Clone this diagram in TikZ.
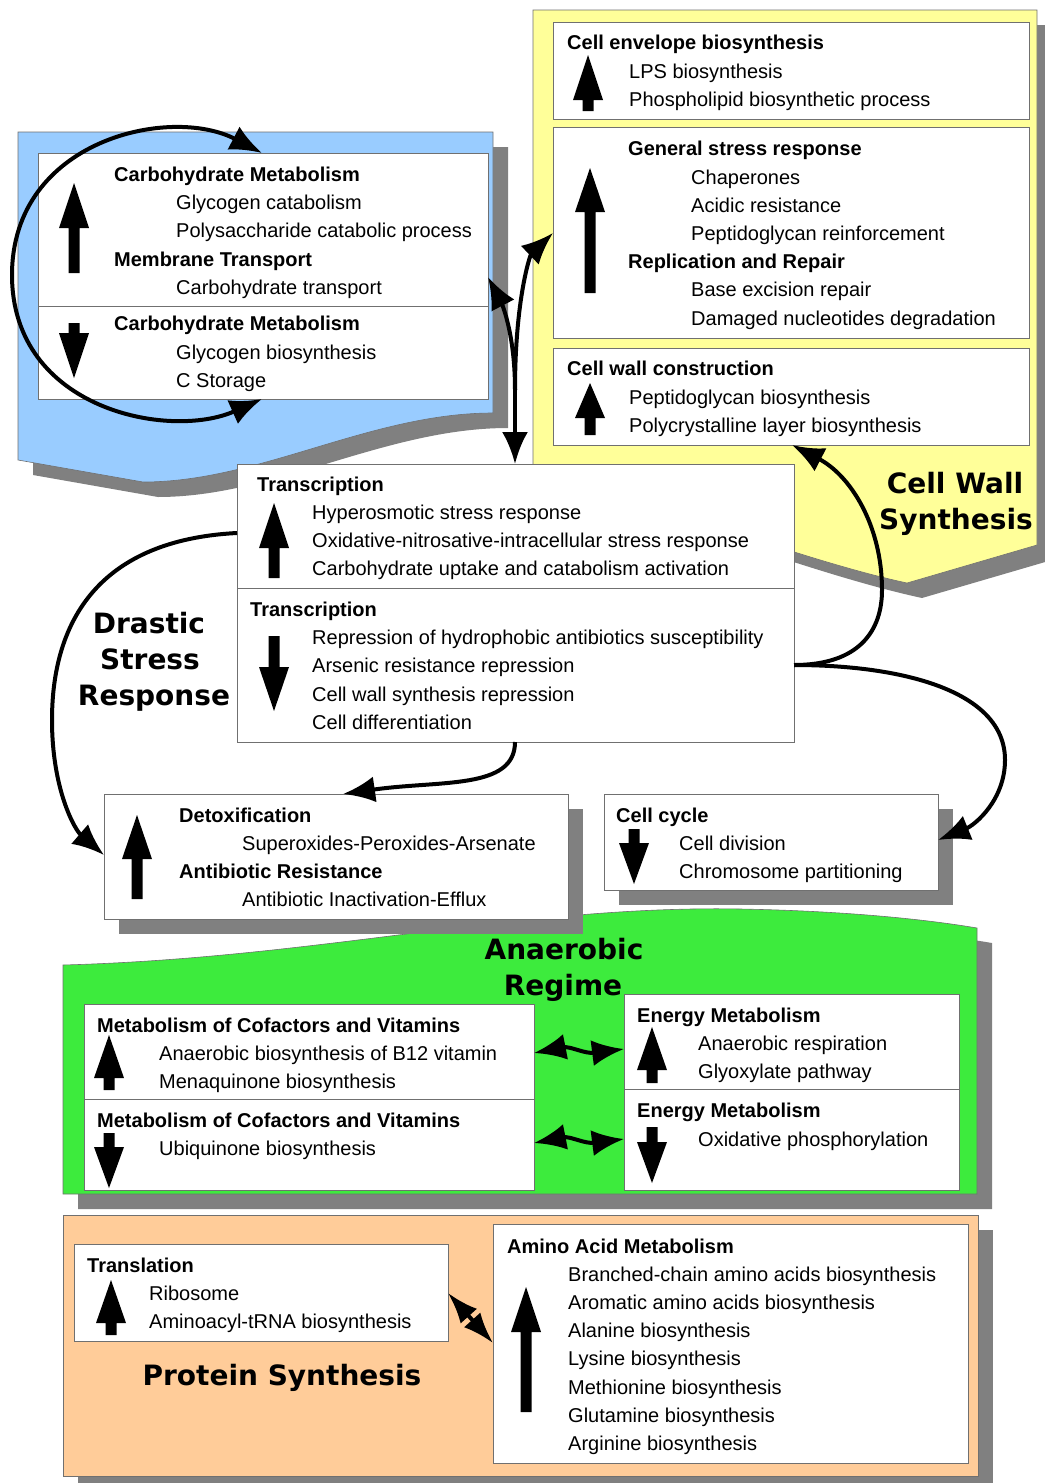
\documentclass[tikz,border=0pt]{standalone}
\usepackage{fontspec}
\setmainfont{Liberation Sans}
\newfontfamily\regfont{DejaVu Sans}
\usetikzlibrary{arrows.meta}
\definecolor{rblue}{HTML}{99CCFF}
\definecolor{ryellow}{HTML}{FFFF99}
\definecolor{rgreen}{HTML}{3DEB3D}
\definecolor{rorange}{HTML}{FFCC99}
\definecolor{shadowgray}{HTML}{808080}
\definecolor{edge}{HTML}{707070}
\newcounter{tn}
\newcommand\Tx[3]{\stepcounter{tn}\node[txt] (t\arabic{tn}) at ({#1},{-#2-7}) {#3};}
\newcommand\Tb[3]{\stepcounter{tn}\node[btxt] (t\arabic{tn}) at ({#1},{-#2-7}) {#3};}
\newcommand\Lb[3]{\stepcounter{tn}\node[lbl] (t\arabic{tn}) at ({#1},{-#2-10}) {#3};}
\newcommand\UpA[4]{\fill ({#1-5.5},{-#3}) -- ({#1-5.5},{-#2-#4}) -- ({#1-15},{-#2-#4}) -- ({#1},{-#2}) -- ({#1+15},{-#2-#4}) -- ({#1+5.5},{-#2-#4}) -- ({#1+5.5},{-#3}) -- cycle;}
\newcommand\DnA[4]{\fill ({#1-5.5},{-#2}) -- ({#1-5.5},{-#3+#4}) -- ({#1-15},{-#3+#4}) -- ({#1},{-#3}) -- ({#1+15},{-#3+#4}) -- ({#1+5.5},{-#3+#4}) -- ({#1+5.5},{-#2}) -- cycle;}
\tikzset{
  txt/.style={anchor=base west, inner sep=0pt, font=\fontsize{20}{24}\selectfont},
  btxt/.style={txt, font=\fontsize{20}{24}\selectfont\bfseries},
  lbl/.style={anchor=base, inner sep=0pt, font=\regfont\fontsize{28}{34}\selectfont\bfseries},
  box/.style={draw=edge, line width=0.8pt, fill=white, anchor=north west, inner sep=0pt, outer sep=0pt},
  region/.style={draw=edge, line width=0.6pt},
  divider/.style={draw=edge, line width=0.8pt},
  dropshadow/.style={fill=shadowgray},
  conn/.style={line width=4pt, -{Latex[length=32pt,width=26pt]}},
  dconn/.style={line width=4pt, {Latex[length=32pt,width=26pt]}-{Latex[length=32pt,width=26pt]}},
  sconn/.style={line width=4pt, {Latex[length=31pt,width=22pt]}-{Latex[length=31pt,width=22pt]}}
}
\begin{document}
\begin{tikzpicture}[x=1pt,y=1pt]
\useasboundingbox (0,0) rectangle (1044,-1483);
\fill[white] (0,0) rectangle (1044,-1483);
% ---------- region shadows
\path[dropshadow,shift={(15,-15)}] (18,-132) -- (493,-132) -- (493,-413) .. controls (370,-413) and (260,-482) .. (143,-482) -- (18,-460) -- cycle;
\path[dropshadow,shift={(15,-15)}] (533,-10) -- (1037,-10) -- (1037,-545) -- (907,-583) .. controls (800,-560) and (650,-500) .. (533,-470) -- cycle;
\path[dropshadow,shift={(15,-15)}] (63,-965) .. controls (320,-958) and (520,-905) .. (740,-909) .. controls (850,-911) and (930,-920) .. (977,-928) -- (977,-1194) -- (63,-1194) -- cycle;
\path[dropshadow] (78,-1230) rectangle (993,-1495);
% ---------- regions
\path[region,fill=rblue] (18,-132) -- (493,-132) -- (493,-413) .. controls (370,-413) and (260,-482) .. (143,-482) -- (18,-460) -- cycle;
\path[region,fill=ryellow] (533,-10) -- (1037,-10) -- (1037,-545) -- (907,-583) .. controls (800,-560) and (650,-500) .. (533,-470) -- cycle;
\path[region,fill=rgreen] (63,-965) .. controls (320,-958) and (520,-905) .. (740,-909) .. controls (850,-911) and (930,-920) .. (977,-928) -- (977,-1194) -- (63,-1194) -- cycle;
\path[region,fill=rorange] (63,-1215) rectangle (978,-1476);
% ---------- box shadows
\path[dropshadow] (119,-809) rectangle (583,-934);
\path[dropshadow] (619,-809) rectangle (953,-905);
% ---------- boxes
\node[box, minimum width=450pt, minimum height=246pt] (tl) at (38,-153) {};
\draw[divider] (tl.west |- 0,-306) -- (tl.east |- 0,-306);
\node[box, minimum width=476pt, minimum height=97pt] (ce) at (553,-22) {};
\node[box, minimum width=476pt, minimum height=211pt] (gs) at (553,-127) {};
\node[box, minimum width=476pt, minimum height=97pt] (cwc) at (553,-348) {};
\node[box, minimum width=557pt, minimum height=278pt] (tr) at (237,-464) {};
\draw[divider] (tr.west |- 0,-588) -- (tr.east |- 0,-588);
\node[box, minimum width=464pt, minimum height=125pt] (dx) at (104,-794) {};
\node[box, minimum width=334pt, minimum height=96pt] (cc) at (604,-794) {};
\node[box, minimum width=450pt, minimum height=186pt] (mc) at (84,-1004) {};
\draw[divider] (mc.west |- 0,-1099) -- (mc.east |- 0,-1099);
\node[box, minimum width=335pt, minimum height=196pt] (em) at (624,-994) {};
\draw[divider] (em.west |- 0,-1089) -- (em.east |- 0,-1089);
\node[box, minimum width=374pt, minimum height=97pt] (tln) at (74,-1244) {};
\node[box, minimum width=475pt, minimum height=239pt] (aa) at (493,-1224) {};
% ---------- texts: top-left
\Tb{114}{174}{Carbohydrate Metabolism}
\Tx{176}{202}{Glycogen catabolism}
\Tx{176}{230}{Polysaccharide catabolic process}
\Tb{114}{259}{Membrane Transport}
\Tx{176}{287}{Carbohydrate transport}
\Tb{114}{323}{Carbohydrate Metabolism}
\Tx{176}{352}{Glycogen biosynthesis}
\Tx{176}{380}{C Storage}
% cell envelope
\Tb{567}{42}{Cell envelope biosynthesis}
\Tx{629}{71}{LPS biosynthesis}
\Tx{629}{99}{Phospholipid biosynthetic process}
% general stress
\Tb{628}{148}{General stress response}
\Tx{691}{177}{Chaperones}
\Tx{691}{205}{Acidic resistance}
\Tx{691}{233}{Peptidoglycan reinforcement}
\Tb{628}{261}{Replication and Repair}
\Tx{691}{289}{Base excision repair}
\Tx{691}{318}{Damaged nucleotides degradation}
% cell wall construction
\Tb{567}{368}{Cell wall construction}
\Tx{629}{397}{Peptidoglycan biosynthesis}
\Tx{629}{425}{Polycrystalline layer biosynthesis}
% transcription
\Tb{257}{484}{Transcription}
\Tx{312}{512}{Hyperosmotic stress response}
\Tx{312}{540}{Oxidative-nitrosative-intracellular stress response}
\Tx{312}{568}{Carbohydrate uptake and catabolism activation}
\Tb{250}{609}{Transcription}
\Tx{312}{637}{Repression of hydrophobic antibiotics susceptibility}
\Tx{312}{665}{Arsenic resistance repression}
\Tx{312}{694}{Cell wall synthesis repression}
\Tx{312}{722}{Cell differentiation}
% detox
\Tb{179}{815}{Detoxification}
\Tx{242}{843}{Superoxides-Peroxides-Arsenate}
\Tb{179}{871}{Antibiotic Resistance}
\Tx{242}{899}{Antibiotic Inactivation-Efflux}
% cell cycle
\Tb{616}{815}{Cell cycle}
\Tx{679}{843}{Cell division}
\Tx{679}{871}{Chromosome partitioning}
% cofactors
\Tb{97}{1025}{Metabolism of Cofactors and Vitamins}
\Tx{159}{1053}{Anaerobic biosynthesis of B12 vitamin}
\Tx{159}{1081}{Menaquinone biosynthesis}
\Tb{97}{1120}{Metabolism of Cofactors and Vitamins}
\Tx{159}{1148}{Ubiquinone biosynthesis}
% energy
\Tb{637}{1015}{Energy Metabolism}
\Tx{698}{1043}{Anaerobic respiration}
\Tx{698}{1071}{Glyoxylate pathway}
\Tb{637}{1110}{Energy Metabolism}
\Tx{698}{1139}{Oxidative phosphorylation}
% translation
\Tb{87}{1265}{Translation}
\Tx{149}{1293}{Ribosome}
\Tx{149}{1321}{Aminoacyl-tRNA biosynthesis}
% amino acid
\Tb{507}{1246}{Amino Acid Metabolism}
\Tx{568}{1274}{Branched-chain amino acids biosynthesis}
\Tx{568}{1302}{Aromatic amino acids biosynthesis}
\Tx{568}{1330}{Alanine biosynthesis}
\Tx{568}{1358}{Lysine biosynthesis}
\Tx{568}{1387}{Methionine biosynthesis}
\Tx{568}{1415}{Glutamine biosynthesis}
\Tx{568}{1443}{Arginine biosynthesis}
% ---------- region labels
\Lb{955}{483}{Cell Wall}
\Lb{956}{519}{Synthesis}
\Lb{149}{623}{Drastic}
\Lb{150}{659}{Stress}
\Lb{154}{695}{Response}
\Lb{564}{949}{Anaerobic}
\Lb{563}{985}{Regime}
\Lb{282}{1375}{Protein Synthesis}
% ---------- up/down glyphs
\UpA{74}{183}{273}{45}
\DnA{74}{323}{378}{45}
\UpA{588}{55}{111}{45}
\UpA{590}{168}{293}{44}
\UpA{590}{383}{435}{35}
\UpA{274}{503}{578}{45}
\DnA{274}{636}{711}{44}
\UpA{137}{815}{899}{44}
\DnA{634}{829}{884}{41}
\UpA{109}{1035}{1090}{43}
\DnA{109}{1133}{1188}{41}
\UpA{652}{1027}{1083}{43}
\DnA{652}{1127}{1183}{41}
\UpA{111}{1280}{1335}{43}
\UpA{526}{1287}{1412}{45}
% ---------- connectors
\draw[dconn] (tl.south -| 262,0) .. controls (170,-440) and (12,-410) .. (12,-275) .. controls (12,-140) and (170,-105) .. (tl.north -| 262,0);
\coordinate (j) at (515,-390);
\draw[conn] (j) -- (tr.north -| j);
\draw[conn] (j) .. controls (515,-330) and (500,-300) .. (tl.east |- 0,-277);
\draw[conn] (j) .. controls (515,-300) and (530,-255) .. (gs.west |- 0,-233);
\draw[conn] (tr.west |- 0,-533) .. controls (100,-540) and (52,-620) .. (52,-720) .. controls (52,-790) and (75,-830) .. (dx.west |- 0,-855);
\draw[conn] (tr.south -| 515,0) .. controls (515,-790) and (440,-780) .. (dx.north -| 343,0);
\draw[conn] (tr.east |- 0,-665) .. controls (860,-665) and (882,-630) .. (882,-590) .. controls (882,-525) and (850,-475) .. (cwc.south -| 792,0);
\draw[conn] (tr.east |- 0,-665) .. controls (900,-665) and (1005,-690) .. (1005,-760) .. controls (1005,-800) and (975,-825) .. (cc.east |- 0,-840);
\draw[dconn] (mc.east |- 0,-1053) .. controls (570,-1046) and (585,-1054) .. (em.west |- 0,-1049);
\draw[dconn] (mc.east |- 0,-1143) .. controls (570,-1136) and (585,-1144) .. (em.west |- 0,-1139);
\draw[sconn] (tln.east |- 0,-1293) -- (aa.west |- 0,-1343);
\end{tikzpicture}
\end{document}
